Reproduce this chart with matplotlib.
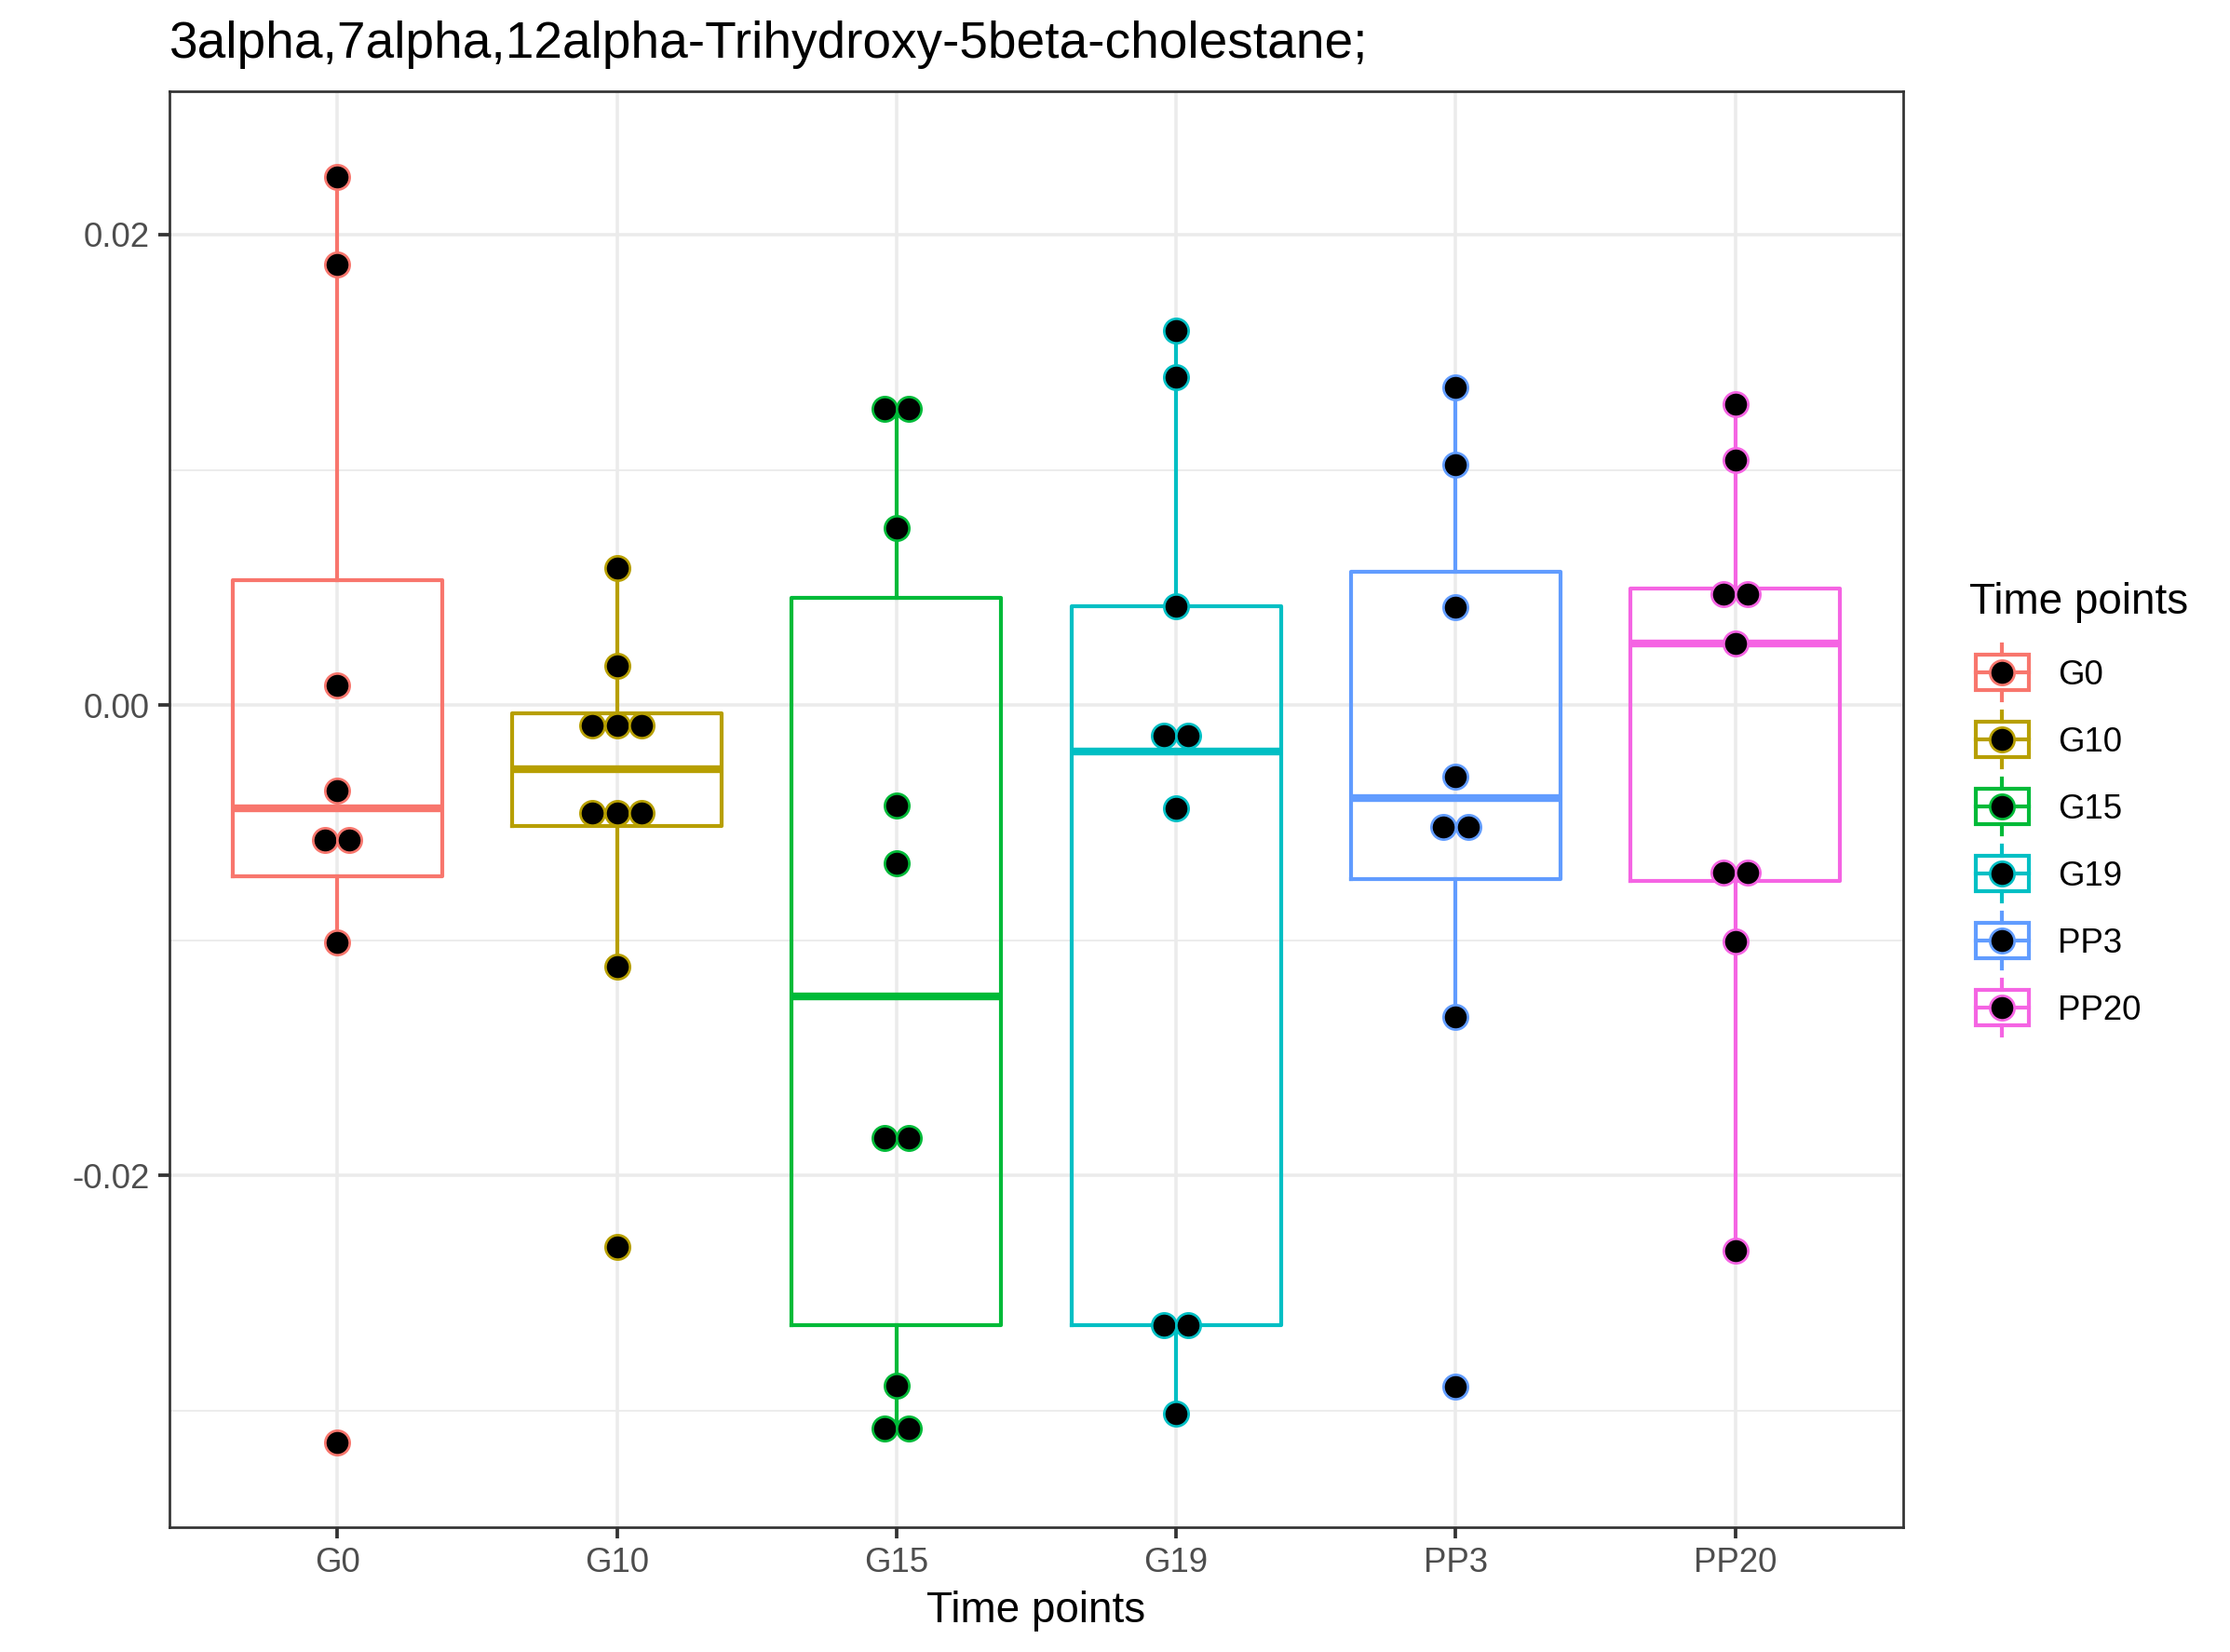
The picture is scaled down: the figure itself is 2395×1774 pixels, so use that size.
import numpy as np
import matplotlib
matplotlib.use("Agg")
import matplotlib.pyplot as plt
from matplotlib.patches import Rectangle
from matplotlib.lines import Line2D

plt.rcParams['font.family'] = ['Liberation Sans', 'DejaVu Sans']

title = "3alpha,7alpha,12alpha-Trihydroxy-5beta-cholestane;"
groups = ["G0", "G10", "G15", "G19", "PP3", "PP20"]
colors = ["#F8766D", "#B79F00", "#00BA38", "#00BFC4", "#619CFF", "#F564E3"]

# points per group
g0 = [0.02245, 0.01874, 0.00084, -0.00364, -0.00572, -0.00572, -0.01010, -0.03135]
g10 = [0.00581, 0.00167, -0.00086, -0.00086, -0.00086, -0.00459, -0.00459, -0.00459,
       -0.01114, -0.02303]
g15 = [0.01261, 0.01261, 0.00753, -0.00426, -0.00671, -0.01839, -0.01839, -0.02893,
       -0.03077, -0.03077]
g19 = [0.01591, 0.01394, 0.00420, -0.00129, -0.00129, -0.00438, -0.02635, -0.02635,
       -0.03014]
pp3 = [0.01351, 0.01020, 0.00415, -0.00305, -0.00517, -0.00517, -0.01327, -0.02899]
pp20 = [0.01278, 0.01040, 0.00470, 0.00470, 0.00263, -0.00714, -0.00714, -0.01006,
        -0.02318]
values = [g0, g10, g15, g19, pp3, pp20]

# box statistics as drawn
whislo = [-0.01010, -0.01114, -0.03077, -0.03014, -0.01327, -0.02318]
q1 = [-0.00728, -0.00515, -0.02637, -0.02635, -0.00740, -0.00748]
med = [-0.00441, -0.00273, -0.01239, -0.00196, -0.00396, 0.00263]
q3 = [0.00530, -0.00035, 0.00457, 0.00420, 0.00566, 0.00495]
whishi = [0.02245, 0.00581, 0.01261, 0.01591, 0.01351, 0.01278]

W, H, DPI = 2395, 1774, 300
fig = plt.figure(figsize=(W / DPI, H / DPI), dpi=DPI)
L, R, T, B = 182, 2044, 98, 1640
ax = fig.add_axes([L / W, 1 - B / H, (R - L) / W, (B - T) / H])

pos = np.arange(1, len(groups) + 1)
for i, c in enumerate(colors):
    st = dict(whislo=whislo[i], q1=q1[i], med=med[i], q3=q3[i], whishi=whishi[i])
    ax.bxp([st], positions=[pos[i]], widths=0.75, showfliers=False, showcaps=False,
           boxprops=dict(color=c, lw=1.0),
           whiskerprops=dict(color=c, lw=1.0),
           medianprops=dict(color=c, lw=2.0, solid_capstyle='butt'),
           manage_ticks=False)

# side by side placement of equal values
step = 0.0886
for i, vals in enumerate(values):
    vals = np.array(vals)
    xs = np.zeros(len(vals))
    for u in np.unique(vals):
        idx = np.where(vals == u)[0]
        n = len(idx)
        xs[idx] = pos[i] + (np.arange(n) - (n - 1) / 2) * step
    ax.scatter(xs, vals, s=6.3 ** 2, c='black', edgecolors=colors[i],
               linewidths=0.65, zorder=3)

ax.set_xlim(0.4, 6.6)
ax.set_ylim(-0.034957, 0.026097)
ax.set_xticks(pos)
ax.set_xticklabels(groups)
ax.set_yticks([-0.02, 0.0, 0.02])
ax.set_yticklabels(["-0.02", "0.00", "0.02"])
ax.set_yticks([-0.03, -0.01, 0.01], minor=True)
ax.tick_params(which='major', length=2.9, width=0.9, color='#333333',
               labelsize=8.8, labelcolor='#4D4D4D', pad=2.2)
ax.tick_params(which='minor', length=0)
ax.set_axisbelow(True)
ax.grid(which='major', color='#EBEBEB', lw=0.85)
ax.grid(which='minor', axis='y', color='#EBEBEB', lw=0.45)
for s in ax.spines.values():
    s.set_color('#333333')
    s.set_linewidth(0.65)

fig.text(L / W, 1 - 61.7 / H, title, fontsize=13.2, va='baseline', ha='left')
fig.text((L + R) / 2 / W, 1 - 1741.7 / H, "Time points", fontsize=11,
         va='baseline', ha='center')

# legend
fig.text(2115 / W, 1 - 659 / H, "Time points", fontsize=11, va='baseline', ha='left')
tf = fig.transFigure
for k, (g, c) in enumerate(zip(groups, colors)):
    cy = 722.3 + k * 71.9
    kx0, kx1, kxc = 2121.7, 2179.0, 2150.3
    fig.add_artist(Rectangle((kx0 / W, 1 - (cy + 19) / H), (kx1 - kx0) / W, 38 / H,
                             fill=False, ec=c, lw=1.0, transform=tf))
    fig.add_artist(Line2D([kx0 / W, kx1 / W], [1 - cy / H] * 2, color=c, lw=1.0,
                          transform=tf))
    fig.add_artist(Line2D([kxc / W] * 2, [1 - (cy - 30) / H, 1 - (cy - 19) / H],
                          color=c, lw=1.0, transform=tf))
    fig.add_artist(Line2D([kxc / W] * 2, [1 - (cy + 19) / H, 1 - (cy + 30) / H],
                          color=c, lw=1.0, transform=tf))
    fig.add_artist(Line2D([kxc / W], [1 - cy / H], marker='o', ms=6.3, mfc='black',
                          mec=c, mew=0.65, transform=tf))
    fig.text(2210 / W, 1 - (cy + 13) / H, g, fontsize=8.8, va='baseline', ha='left')

fig.savefig("out.png", dpi=DPI)
